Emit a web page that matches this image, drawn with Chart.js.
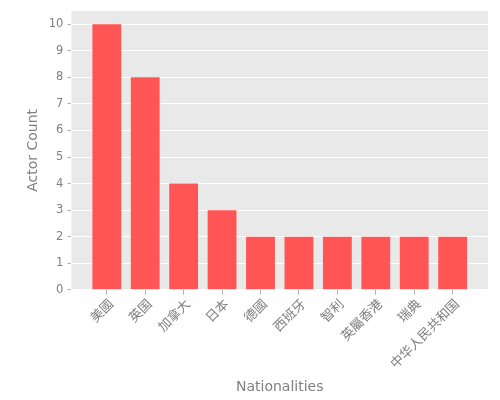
<!DOCTYPE html>
<html>
<head>
<meta charset="utf-8">
<script src="https://cdn.jsdelivr.net/npm/chart.js@4"></script>
<style>
  html, body { margin: 0; padding: 0; background: #fff; }
  #wrap { width: 500px; height: 400px; }
</style>
</head>
<body>
<div id="wrap"><canvas id="c"></canvas></div>
<script>
const nationalities = ['美國', '英国', '加拿大', '日本', '德國', '西班牙', '智利', '英屬香港', '瑞典', '中华人民共和国'];
const actorCounts = [10, 8, 4, 3, 2, 2, 2, 2, 2, 2];
const yTicks = [0, 1, 2, 3, 4, 5, 6, 7, 8, 9, 10];

const FONT = "'DejaVu Sans', 'Noto Sans CJK SC', sans-serif";
const GREY = '#808080';

// grey panel behind the plot, ggplot style
const panelBg = {
    id: 'panelBg',
    beforeDraw(chart) {
        const {ctx, chartArea: a} = chart;
        ctx.save();
        ctx.fillStyle = '#e9e9e9';
        ctx.fillRect(a.left, a.top, a.right - a.left, a.bottom - a.top);
        ctx.restore();
    }
};

new Chart(document.getElementById('c'), {
    type: 'bar',
    data: {
        datasets: [{
            data: actorCounts.map((v, i) => ({x: i, y: v})),
            backgroundColor: '#ff5555',
            borderWidth: 0,
            categoryPercentage: 1,
            barPercentage: 0.75
        }]
    },
    options: {
        responsive: true,
        maintainAspectRatio: false,
        animation: false,
        layout: { padding: { top: 10, right: 12, left: 21, bottom: 0 } },
        plugins: { legend: { display: false }, tooltip: { enabled: false } },
        scales: {
            x: {
                type: 'linear',
                offset: false,
                min: -0.92,
                max: 9.92,
                afterBuildTicks: s => { s.ticks = nationalities.map((_, i) => ({value: i})); },
                ticks: {
                    autoSkip: false,
                    minRotation: 45,
                    maxRotation: 45,
                    color: GREY,
                    font: { family: FONT, size: 13 },
                    padding: 2,
                    labelOffset: 5,
                    callback: v => nationalities[v]
                },
                grid: { offset: false, drawOnChartArea: false, drawTicks: true, tickLength: 5, tickColor: '#b0b0b0' },
                border: { display: false },
                title: {
                    display: true,
                    text: 'Nationalities',
                    color: GREY,
                    font: { family: FONT, size: 14 },
                    padding: { top: 5 }
                }
            },
            y: {
                min: 0,
                max: 10.5,
                afterBuildTicks: s => { s.ticks = yTicks.map(v => ({value: v})); },
                ticks: {
                    color: GREY,
                    font: { family: FONT, size: 11.5 },
                    padding: 4
                },
                grid: { color: '#ffffff', lineWidth: 1, drawTicks: true, tickLength: 4, tickColor: '#b0b0b0' },
                border: { display: false },
                title: {
                    display: true,
                    text: 'Actor Count',
                    color: GREY,
                    font: { family: FONT, size: 14 },
                    padding: { bottom: 3 }
                }
            }
        }
    },
    plugins: [panelBg]
});
</script>
</body>
</html>
